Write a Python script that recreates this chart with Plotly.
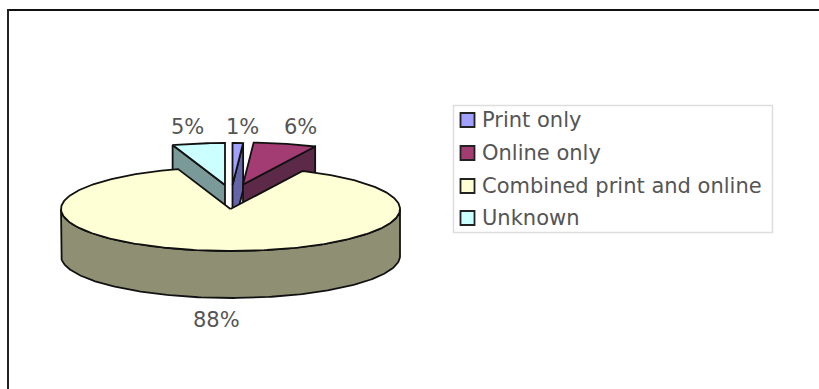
import math
import plotly.graph_objects as go

# Data
categories = ["Print only", "Online only", "Combined print and online", "Unknown"]
shares = [1, 6, 88, 5]
share_labels = ["1%", "6%", "88%", "5%"]

# Styles
top_colors = ["#a0a0ff", "#a23c72", "#ffffd6", "#ccffff"]
side_colors = ["#6464a8", "#5c2a48", "#8f8f73", "#7a9999"]
TEXT = "#555555"
FONT = "DejaVu Sans, Verdana, sans-serif"
FS = 21

# Pie geometry (pixel-like axis units)
CX, CY, RX, RY, DEPTH = 230.5, 209, 169.5, 42, 47
# exploded apex offsets per slice (dx, dy)
offsets = [(2, -24), (12.5, -24.5), (0, 0), (-5.5, -24)]
label_pos = [(242, 127), (300, 127), (216, 320), (187, 127)]


def pt(theta, ox, oy, down=0):
    t = math.radians(theta)
    return CX + ox + RX * math.sin(t), CY + oy - RY * math.cos(t) + down


def arc(a0, a1, ox, oy, down=0, step=1.0):
    n = max(2, int(abs(a1 - a0) / step) + 1)
    return [pt(a0 + (a1 - a0) * i / (n - 1), ox, oy, down) for i in range(n)]


def poly(points, fill, name):
    xs = [p[0] for p in points] + [points[0][0]]
    ys = [p[1] for p in points] + [points[0][1]]
    return go.Scatter(x=xs, y=ys, mode="lines", fill="toself", fillcolor=fill,
                      line=dict(color="#111111", width=1.8), name=name,
                      hoverinfo="skip", showlegend=False)


fig = go.Figure()
total = sum(shares)
angles = []
a = 0.0
for s in shares:
    angles.append((a, a + 360.0 * s / total))
    a += 360.0 * s / total

# exploded slices first (back), main slice last (front)
for i in [0, 3, 1]:
    a0, a1 = angles[i]
    ox, oy = offsets[i]
    apex = (CX + ox, CY + oy)
    edge = a1 if i != 3 else a0
    out = pt(edge, ox, oy)
    fig.add_trace(poly([apex, out, (out[0], out[1] + DEPTH), (apex[0], apex[1] + DEPTH)],
                       side_colors[i], categories[i] + " side"))
    fig.add_trace(poly([apex] + arc(a0, a1, ox, oy), top_colors[i], categories[i]))

i = 2
a0, a1 = angles[i]
front = arc(90, 270, 0, 0)
front_low = arc(270, 90, 0, 0, DEPTH)
fig.add_trace(poly(front + front_low, side_colors[i], categories[i] + " side"))
fig.add_trace(poly([(CX, CY)] + arc(a0, a1, 0, 0), top_colors[i], categories[i]))

shapes = [
    dict(type="line", x0=7, x1=819, y0=10, y1=10, line=dict(color="#111111", width=2)),
    dict(type="line", x0=8, x1=8, y0=9, y1=389, line=dict(color="#222222", width=2)),
    dict(type="rect", x0=453.5, x1=772.5, y0=105.5, y1=232.5,
         line=dict(color="#dddddd", width=1.5), fillcolor="#ffffff", layer="below"),
]
annotations = []
for k, (x, y) in zip(share_labels, label_pos):
    annotations.append(dict(x=x, y=y, text=k, showarrow=False, xanchor="center", yanchor="middle",
                            font=dict(family=FONT, size=FS, color=TEXT)))

legend_rows = [120, 153, 186, 218]
for name, color, y in zip(categories, top_colors, legend_rows):
    shapes.append(dict(type="rect", x0=460.5, x1=474.5, y0=y - 7, y1=y + 7, fillcolor=color,
                       line=dict(color="#222222", width=1.8)))
    annotations.append(dict(x=479.5, y=y, text=name, showarrow=False, xanchor="left", yanchor="middle",
                            font=dict(family=FONT, size=FS, color=TEXT)))

fig.update_layout(
    width=819, height=389, margin=dict(l=0, r=0, t=0, b=0),
    paper_bgcolor="#ffffff", plot_bgcolor="#ffffff", showlegend=False,
    shapes=shapes, annotations=annotations,
    xaxis=dict(range=[0, 819], visible=False, fixedrange=True),
    yaxis=dict(range=[389, 0], visible=False, fixedrange=True),
)
fig.write_html("out.html", config={"displayModeBar": False},
               post_script="document.body.style.margin='0';document.body.style.overflow='hidden';")
